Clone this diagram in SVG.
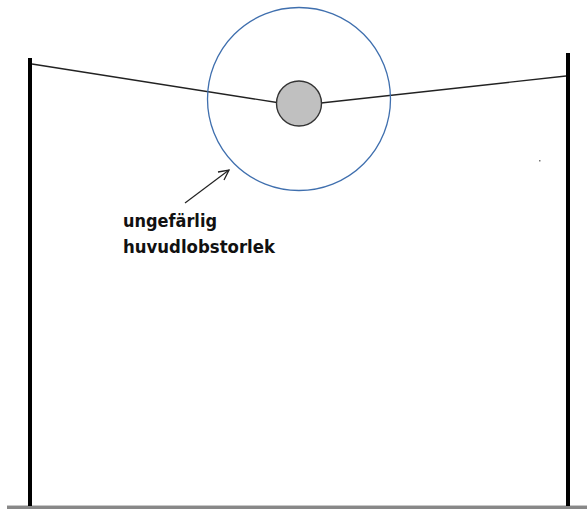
<svg xmlns="http://www.w3.org/2000/svg" width="587" height="509" viewBox="0 0 587 509">
<style>
.post{fill:#000}
.wire{stroke:#222;stroke-width:1.4;fill:none}
.lbl{font-family:"DejaVu Sans",Verdana,sans-serif;font-weight:bold;font-size:17px;fill:#111}
</style>
<defs>
<marker id="open" viewBox="0 0 12 12" refX="11" refY="6" markerWidth="12" markerHeight="12" markerUnits="userSpaceOnUse" orient="auto">
<path d="M1,1 L11,6 L1,11" fill="none" stroke="#222" stroke-width="1.3"/>
</marker>
</defs>
<rect width="587" height="509" fill="#fff"/>
<g id="ground">
<rect x="7" y="505" width="580" height="1" fill="#c8c8c8"/>
<rect x="7" y="506" width="580" height="3" fill="#888"/>
</g>
<g id="post-left"><rect class="post" x="28" y="58" width="4" height="448"/></g>
<g id="post-right"><rect class="post" x="566" y="53" width="4" height="453"/></g>
<g id="connectors">
<line class="wire" x1="32" y1="64" x2="277" y2="102.5"/>
<line class="wire" x1="321" y1="103" x2="566" y2="76"/>
<line x1="185" y1="203" x2="229" y2="170" stroke="#222" stroke-width="1.2" marker-end="url(#open)"/>
</g>
<g id="lobe"><circle cx="299" cy="99" r="91.5" fill="none" stroke="#3f6fae" stroke-width="1.3"/></g>
<g id="ball"><circle cx="299" cy="103.5" r="22.5" fill="#c0c0c0" stroke="#333" stroke-width="1.4"/></g>
<g id="label">
<text class="lbl" x="123" y="227" textLength="94" lengthAdjust="spacingAndGlyphs">ungefärlig</text>
<text class="lbl" x="123" y="253" textLength="152" lengthAdjust="spacingAndGlyphs">huvudlobstorlek</text>
</g>
<rect x="539" y="160" width="1.5" height="1.5" fill="#777"/>
</svg>
